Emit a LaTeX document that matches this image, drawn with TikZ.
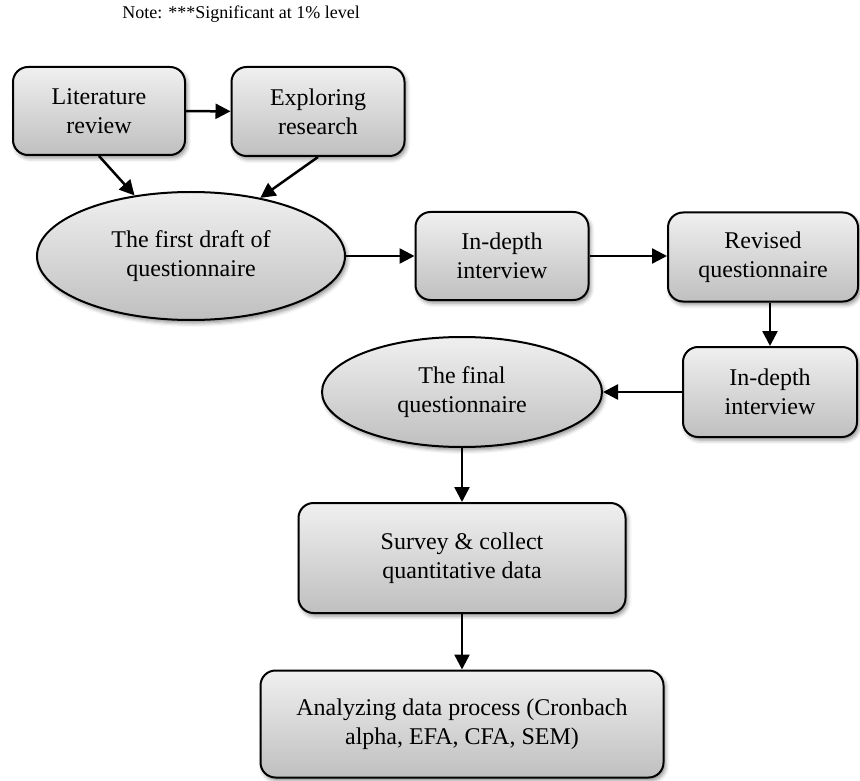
\documentclass[tikz,border=0pt]{standalone}
\usepackage{fontspec}
\setmainfont{Liberation Serif}
\usetikzlibrary{arrows.meta,shapes.geometric,shadows.blur}

\tikzset{
  shaded/.style={top color=gray!12, bottom color=gray!50, draw=black, line width=1pt,
    blur shadow={shadow xshift=1pt, shadow yshift=-1.5pt, shadow blur radius=2pt, shadow opacity=45}},
  stepbox/.style={shaded, rounded corners=7.5pt, align=center, inner sep=0pt,
    font=\fontsize{12}{14.5}\selectfont},
  oval/.style={shaded, ellipse, align=center, inner sep=0pt,
    font=\fontsize{12}{14.5}\selectfont},
  flow/.style={line width=1.25pt, -{Triangle[length=7.5pt,width=7.5pt]}}
}

\begin{document}
\begin{tikzpicture}[x=0.5pt, y=-0.5pt]
\useasboundingbox (0,0) rectangle (860,780);

% Note on top
\node[font=\fontsize{9}{11}\selectfont] (note) at (241,14) {Note: ***Significant at 1\% level};

% First row
\node[stepbox, minimum width=86pt, minimum height=44pt] (lit) at (99,111) {Literature\\review};
\node[stepbox, minimum width=86.5pt, minimum height=44.5pt] (explore) at (318,111.5) {Exploring\\research};

% Draft and interviews
\node[oval, minimum width=154pt, minimum height=64pt] (draft) at (191,256) {The first draft of\\questionnaire};
\node[stepbox, minimum width=86.5pt, minimum height=44pt] (interview1) at (502,256) {In-depth\\interview};
\node[stepbox, minimum width=95pt, minimum height=44.5pt] (revised) at (763,257) {Revised\\questionnaire};
\node[stepbox, minimum width=87pt, minimum height=45pt] (interview2) at (770,392) {In-depth\\interview};
\node[oval, minimum width=140pt, minimum height=55pt] (final) at (462,392) {The final\\questionnaire};

% Survey and analysis
\node[stepbox, minimum width=163.5pt, minimum height=55pt] (survey) at (462,558) {Survey \& collect\\quantitative data};
\node[stepbox, minimum width=201.5pt, minimum height=53.5pt] (analyze) at (462,724) {Analyzing data process (Cronbach\\alpha, EFA, CFA, SEM)};

% Arrows
\draw[flow] (lit) -- (explore);
\draw[flow] (lit.south) -- (draft.133);
\draw[flow] (explore.south) -- (draft.40);
\draw[flow] (draft) -- (interview1);
\draw[flow] (interview1.east) -- (interview1.east -| revised.west);
\draw[flow] (revised.south -| interview2.north) -- (interview2.north);
\draw[flow] (interview2) -- (final);
\draw[flow] (final) -- (survey);
\draw[flow] (survey) -- (analyze);

\end{tikzpicture}
\end{document}
